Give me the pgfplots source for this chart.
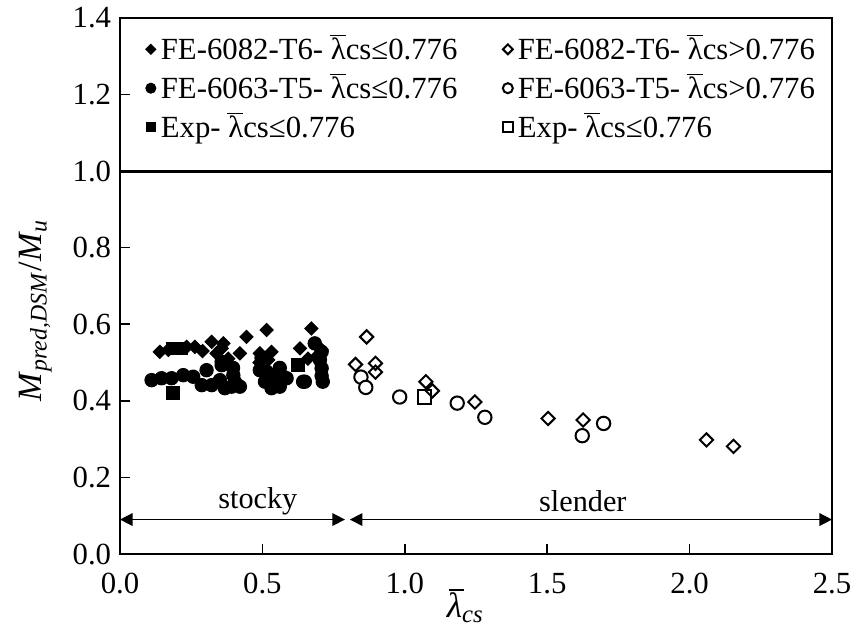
\documentclass[border=0pt]{standalone}
\usepackage{fontspec}
\setmainfont{Liberation Serif}
\usepackage{pgfplots}
\pgfplotsset{compat=1.18}
\usetikzlibrary{arrows.meta}
\newcommand\lbar{\leavevmode\setbox0\hbox{λ}\rlap{\raisebox{\dimexpr\ht0+0.06em\relax}{\kern-0.04em\rule{\dimexpr\wd0+0.04em\relax}{0.05em}}}\box0}
\newcommand\lbarit{\leavevmode\setbox0\hbox{\itshape λ}\rlap{\raisebox{\dimexpr\ht0+0.06em\relax}{\kern0.06em\rule{\dimexpr\wd0\relax}{0.05em}}}\box0}
\begin{document}
\begin{tikzpicture}
\path[use as bounding box] (-47.6pt,-30.5pt) rectangle (292.4pt,219.8pt);
\begin{axis}[
  at={(0,0)}, anchor=south west,
  width=282.5pt, height=212.7pt, scale only axis,
  xmin=0, xmax=2.5, ymin=0, ymax=1.4,
  clip=false,
  xtick={0,0.5,1,1.5,2,2.5},
  ytick={0,0.2,0.4,0.6,0.8,1,1.2,1.4},
  tick align=inside, xtick pos=bottom, ytick pos=left,
  major tick length=4pt,
  tick style={black, line width=0.6pt},
  axis line style={line width=0.8pt},
  /pgf/number format/assume math mode=true,
  /pgf/number format/fixed, /pgf/number format/fixed zerofill, /pgf/number format/precision=1,
  ticklabel style={font=\fontsize{12.2}{14}\selectfont},
  xticklabel style={yshift=-4pt},
  xlabel={{\itshape\lbarit}\textsubscript{\itshape cs}},
  xlabel style={at={(axis description cs:0.485,-0.097)}, anchor=center, font=\fontsize{14}{16}\selectfont},
  ylabel={\textit{M}\textsubscript{\textit{pred,DSM}}/\textit{M}\textsubscript{\textit{u}}},
  ylabel style={at={(axis description cs:-0.119,0.455)}, anchor=center, font=\fontsize{13.5}{15}\selectfont},
  legend columns=2,
  legend cell align=left,
  legend image code/.code={\draw[#1, /tikz/every mark/.append style={scale=0.75}] plot coordinates {(0.1cm,0cm)};},
  legend style={at={(axis description cs:0.025,0.988)}, anchor=north west, draw=none, fill=none,
    font=\fontsize{12.2}{14}\selectfont, row sep=0pt,
    /tikz/every even column/.append style={column sep=16pt}},
]
\addplot[forget plot, black, line width=1.2pt] coordinates {(0,1) (2.5,1)};
\addplot[forget plot, black, line width=0.6pt, {Triangle[length=5pt,width=5pt]}-{Triangle[length=5pt,width=5pt]}] coordinates {(0,0.09) (0.79,0.09)};
\addplot[forget plot, black, line width=0.6pt, {Triangle[length=5pt,width=5pt]}-{Triangle[length=5pt,width=5pt]}] coordinates {(0.807,0.09) (2.5,0.09)};
\node[font=\fontsize{12}{14}\selectfont] at (axis cs:0.484,0.138) {stocky};
\node[font=\fontsize{12}{14}\selectfont] at (axis cs:1.625,0.138) {slender};

% FE-6082-T6 <= 0.776
\addplot[only marks, black, mark=square*, mark size=1.85pt, mark options={rotate=45, fill=black}] coordinates {
(0.140,0.528) (0.170,0.533) (0.234,0.541) (0.263,0.541) (0.290,0.530) (0.322,0.554) (0.357,0.537)
(0.363,0.550) (0.339,0.524) (0.380,0.510) (0.421,0.524) (0.444,0.567) (0.515,0.585) (0.491,0.524)
(0.490,0.500) (0.532,0.528) (0.520,0.507) (0.632,0.537) (0.660,0.510) (0.672,0.589) (0.690,0.515)
(0.684,0.550) (0.708,0.533)
};
\addlegendentry{FE-6082-T6- \lbar cs≤0.776}
% FE-6082-T6 > 0.776
\addplot[only marks, black, mark=square, mark size=1.85pt, mark options={rotate=45, fill=white, line width=0.8pt}] coordinates {
(0.866,0.567) (0.827,0.495) (0.897,0.498) (0.897,0.475) (1.074,0.450) (1.097,0.426) (1.246,0.397)
(1.503,0.354) (1.626,0.350) (2.059,0.298) (2.154,0.281)
};
\addlegendentry{FE-6082-T6- \lbar cs>0.776}
% FE-6063-T5 <= 0.776
\addplot[only marks, black, mark=*, mark size=2.65pt, mark options={fill=black}] coordinates {
(0.111,0.454) (0.146,0.459) (0.181,0.459) (0.222,0.467) (0.257,0.463) (0.287,0.441) (0.322,0.441)
(0.368,0.433) (0.392,0.437) (0.421,0.437) (0.398,0.467) (0.304,0.480) (0.357,0.493) (0.357,0.502)
(0.351,0.454) (0.397,0.486) (0.404,0.449) (0.497,0.512) (0.515,0.476) (0.544,0.459) (0.509,0.450)
(0.491,0.480) (0.532,0.433) (0.561,0.437) (0.561,0.486) (0.573,0.463) (0.585,0.459) (0.643,0.450)
(0.649,0.450) (0.684,0.550) (0.708,0.528) (0.702,0.507) (0.708,0.485) (0.708,0.465) (0.712,0.450)
};
\addlegendentry{FE-6063-T5- \lbar cs≤0.776}
% FE-6063-T5 > 0.776
\addplot[only marks, black, mark=*, mark size=2.65pt, mark options={fill=white, line width=0.8pt}] coordinates {
(0.846,0.462) (0.863,0.435) (0.982,0.410) (1.184,0.394) (1.281,0.357) (1.623,0.309) (1.698,0.341)
};
\addlegendentry{FE-6063-T5- \lbar cs>0.776}
% Exp <= 0.776
\addplot[only marks, black, mark=square*, mark size=2.5pt, mark options={fill=black}] coordinates {
(0.187,0.537) (0.216,0.537) (0.187,0.420) (0.626,0.493)
};
\addlegendentry{Exp- \lbar cs≤0.776}
% Exp > 0.776
\addplot[only marks, black, mark=square, mark size=2.6pt, mark options={fill=white, line width=0.8pt}] coordinates {
(1.070,0.410)
};
\addlegendentry{Exp- \lbar cs≤0.776}
\end{axis}
\end{tikzpicture}
\end{document}
